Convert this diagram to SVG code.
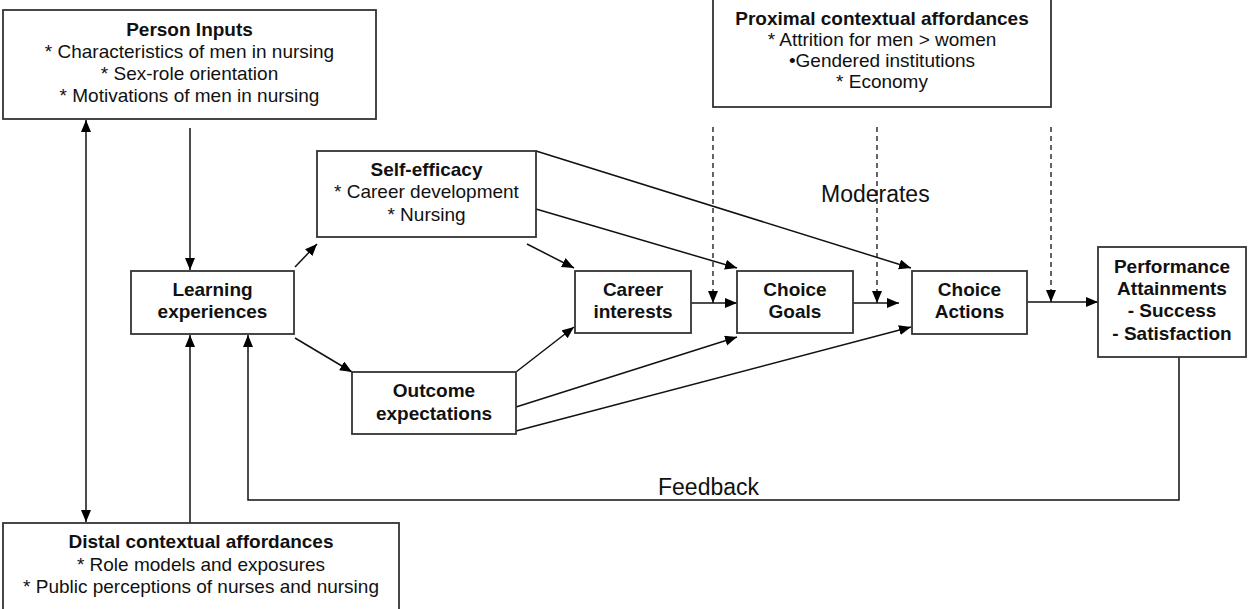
<svg xmlns="http://www.w3.org/2000/svg" width="1248" height="609" viewBox="0 0 1248 609">
<style>
.box{fill:#fff;stroke:#333;stroke-width:1.8}
.t{font-family:"Liberation Sans",Arial,sans-serif;font-size:19px;fill:#111;text-anchor:middle}
.b{font-weight:bold}
.lbl{font-family:"Liberation Sans",Arial,sans-serif;font-size:23px;fill:#111}
.ln{fill:none;stroke:#111;stroke-width:1.5}
.dash{fill:none;stroke:#111;stroke-width:1.3;stroke-dasharray:5,4}
</style>
<defs>
<marker id="ah" markerUnits="userSpaceOnUse" markerWidth="13" markerHeight="11" refX="12" refY="5" orient="auto">
<path d="M0,0 L12,5 L0,10 z" fill="#000"/>
</marker>
<marker id="ahs" markerUnits="userSpaceOnUse" markerWidth="13" markerHeight="11" refX="0" refY="5" orient="auto">
<path d="M12,0 L0,5 L12,10 z" fill="#000"/>
</marker>
</defs>
<g id="connectors">
<line class="ln" x1="190" y1="128" x2="190" y2="270" marker-end="url(#ah)"/>
<line class="ln" x1="86" y1="120" x2="86" y2="522" marker-start="url(#ahs)" marker-end="url(#ah)"/>
<line class="ln" x1="190" y1="523" x2="190" y2="335" marker-end="url(#ah)"/>
<polyline class="ln" points="1179,357 1179,500 248,500 248,335" marker-end="url(#ah)"/>
<line class="ln" x1="295" y1="267" x2="317" y2="244" marker-end="url(#ah)"/>
<line class="ln" x1="295" y1="338" x2="352" y2="372" marker-end="url(#ah)"/>
<line class="ln" x1="527" y1="244" x2="574" y2="268" marker-end="url(#ah)"/>
<line class="ln" x1="536" y1="209" x2="737" y2="268" marker-end="url(#ah)"/>
<line class="ln" x1="536" y1="151" x2="911" y2="268" marker-end="url(#ah)"/>
<line class="ln" x1="516" y1="372" x2="574" y2="327" marker-end="url(#ah)"/>
<line class="ln" x1="516" y1="407" x2="737" y2="337" marker-end="url(#ah)"/>
<line class="ln" x1="516" y1="431" x2="911" y2="327" marker-end="url(#ah)"/>
<line class="ln" x1="691" y1="303" x2="737" y2="303" marker-end="url(#ah)"/>
<line class="ln" x1="853" y1="303" x2="899" y2="303" marker-end="url(#ah)"/>
<line class="ln" x1="1027" y1="302" x2="1098" y2="302" marker-end="url(#ah)"/>
<line class="dash" x1="713" y1="127" x2="713" y2="303" marker-end="url(#ah)"/>
<line class="dash" x1="877" y1="127" x2="877" y2="303" marker-end="url(#ah)"/>
<line class="dash" x1="1051" y1="127" x2="1051" y2="302" marker-end="url(#ah)"/>
<text class="lbl" x="821" y="202">Moderates</text>
<text class="lbl" x="658" y="495">Feedback</text>
</g>
<g id="person-inputs">
<rect class="box" x="3" y="10" width="373" height="109"/>
<text class="t b" x="189.5" y="36">Person Inputs</text>
<text class="t" x="189.5" y="58">* Characteristics of men in nursing</text>
<text class="t" x="189.5" y="80">* Sex-role orientation</text>
<text class="t" x="189.5" y="102">* Motivations of men in nursing</text>
</g>
<g id="proximal">
<rect class="box" x="713" y="-3" width="338" height="110"/>
<text class="t b" x="882" y="25">Proximal contextual affordances</text>
<text class="t" x="882" y="46">* Attrition for men &gt; women</text>
<text class="t" x="882" y="67">•Gendered institutions</text>
<text class="t" x="882" y="88">* Economy</text>
</g>
<g id="self-efficacy">
<rect class="box" x="317" y="151" width="219" height="86"/>
<text class="t b" x="426.5" y="176">Self-efficacy</text>
<text class="t" x="426.5" y="198">* Career development</text>
<text class="t" x="426.5" y="221">* Nursing</text>
</g>
<g id="learning">
<rect class="box" x="131" y="271" width="163" height="63"/>
<text class="t b" x="212.5" y="296">Learning</text>
<text class="t b" x="212.5" y="318">experiences</text>
</g>
<g id="outcome">
<rect class="box" x="352" y="372" width="164" height="62"/>
<text class="t b" x="434" y="397">Outcome</text>
<text class="t b" x="434" y="420">expectations</text>
</g>
<g id="career-interests">
<rect class="box" x="575" y="271" width="116" height="62"/>
<text class="t b" x="633" y="296">Career</text>
<text class="t b" x="633" y="318">interests</text>
</g>
<g id="choice-goals">
<rect class="box" x="737" y="271" width="116" height="62"/>
<text class="t b" x="795" y="296">Choice</text>
<text class="t b" x="795" y="318">Goals</text>
</g>
<g id="choice-actions">
<rect class="box" x="912" y="271" width="115" height="63"/>
<text class="t b" x="969.5" y="296">Choice</text>
<text class="t b" x="969.5" y="318">Actions</text>
</g>
<g id="performance">
<rect class="box" x="1098" y="247" width="148" height="110"/>
<text class="t b" x="1172" y="273">Performance</text>
<text class="t b" x="1172" y="295">Attainments</text>
<text class="t b" x="1172" y="317">- Success</text>
<text class="t b" x="1172" y="340">- Satisfaction</text>
</g>
<g id="distal">
<rect class="box" x="3" y="523" width="396" height="100"/>
<text class="t b" x="201" y="548">Distal contextual affordances</text>
<text class="t" x="201" y="571">* Role models and exposures</text>
<text class="t" x="201" y="593">* Public perceptions of nurses and nursing</text>
</g>
</svg>
